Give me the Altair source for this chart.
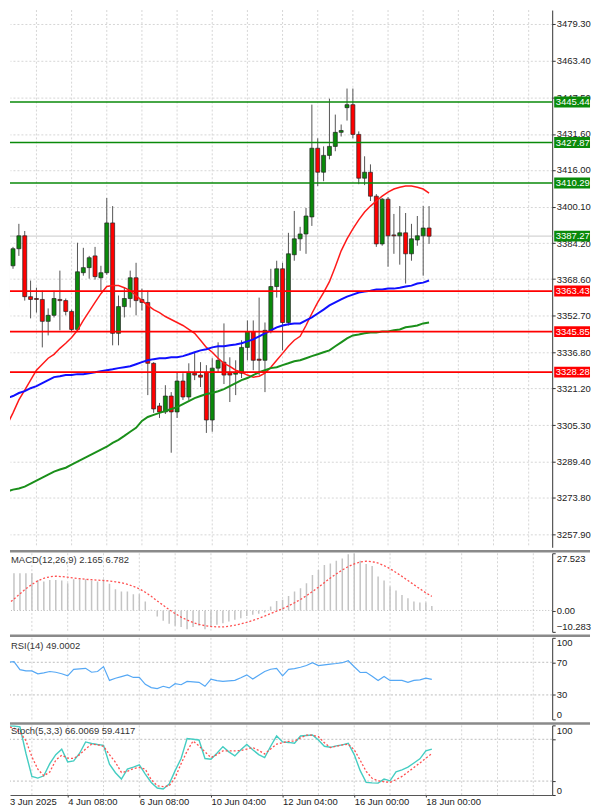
import altair as alt
import pandas as pd

bars = list(range(73))
opens = [3356.3, 3374.4, 3381.8, 3387.4, 3361.0, 3360.2, 3359.8, 3350.3, 3352.9, 3359.8,
         3359.3, 3354.6, 3346.8, 3371.4, 3373.6, 3378.7, 3369.2, 3371.4, 3393.0, 3345.1,
         3356.7, 3360.2, 3369.2, 3359.8, 3358.5, 3332.1, 3313.6, 3311.0, 3317.9, 3311.0,
         3324.4, 3317.5, 3327.8, 3327.0, 3328.2, 3307.5, 3330.0, 3332.6, 3328.2, 3327.4,
         3327.8, 3339.0, 3345.9, 3333.9, 3333.4, 3346.4, 3365.4, 3373.1, 3349.8, 3379.2,
         3386.1, 3388.2, 3395.6, 3425.4, 3415.0, 3422.3, 3426.2, 3432.3, 3443.0, 3444.3,
         3431.4, 3412.4, 3415.0, 3404.6, 3383.9, 3403.3, 3387.8, 3387.4, 3388.7, 3379.6,
         3385.6, 3387.4, 3390.8]
highs = [3378.7, 3382.6, 3392.6, 3389.5, 3368.0, 3364.9, 3363.6, 3355.9, 3363.6, 3372.3,
         3360.2, 3355.4, 3384.4, 3382.2, 3378.7, 3382.6, 3374.4, 3403.8, 3400.3, 3361.5,
         3364.9, 3372.3, 3375.7, 3364.5, 3363.6, 3332.6, 3314.9, 3322.6, 3319.6, 3328.2,
         3327.8, 3332.1, 3336.9, 3332.6, 3331.3, 3334.3, 3341.2, 3349.4, 3334.7, 3333.4,
         3342.1, 3350.7, 3350.7, 3360.6, 3349.8, 3373.1, 3376.6, 3375.7, 3388.7, 3398.2,
         3391.3, 3399.5, 3444.3, 3429.7, 3426.2, 3446.9, 3440.0, 3435.7, 3451.3, 3451.3,
         3432.7, 3421.9, 3418.4, 3405.5, 3403.8, 3404.2, 3396.9, 3400.3, 3397.3, 3392.6,
         3396.0, 3400.3, 3400.3]
lows = [3350.7, 3373.1, 3378.7, 3359.3, 3351.6, 3354.1, 3339.0, 3344.2, 3352.0, 3346.4,
        3352.9, 3345.9, 3345.9, 3370.1, 3368.8, 3368.4, 3363.6, 3370.5, 3339.9, 3339.9,
        3352.0, 3356.3, 3352.9, 3355.0, 3318.3, 3310.6, 3308.4, 3310.1, 3293.3, 3308.4,
        3316.2, 3316.2, 3324.8, 3321.8, 3301.9, 3302.4, 3328.2, 3323.1, 3315.3, 3318.3,
        3325.7, 3333.4, 3329.1, 3327.0, 3319.6, 3345.1, 3360.6, 3337.7, 3348.5, 3376.6,
        3380.9, 3379.6, 3391.7, 3409.0, 3411.1, 3420.6, 3424.1, 3430.5, 3437.4, 3429.7,
        3409.8, 3409.4, 3402.5, 3382.6, 3383.1, 3374.0, 3379.6, 3374.9, 3366.7, 3376.6,
        3383.1, 3370.1, 3383.9]
closes = [3374.4, 3381.8, 3387.4, 3361.0, 3359.8, 3359.8, 3350.3, 3352.9, 3360.2, 3359.3,
          3354.6, 3346.8, 3371.8, 3373.6, 3377.9, 3369.7, 3371.4, 3393.0, 3345.1, 3356.7,
          3360.2, 3369.2, 3359.3, 3358.5, 3332.1, 3312.3, 3311.0, 3317.9, 3311.0, 3324.4,
          3317.5, 3328.2, 3327.0, 3326.1, 3307.5, 3330.0, 3333.4, 3327.0, 3327.0, 3328.2,
          3339.0, 3345.9, 3333.4, 3333.4, 3346.4, 3365.4, 3373.1, 3349.8, 3379.6, 3386.1,
          3388.2, 3396.0, 3425.4, 3415.0, 3422.3, 3426.2, 3432.3, 3433.1, 3444.3, 3431.4,
          3412.4, 3415.0, 3404.6, 3383.9, 3403.3, 3387.4, 3387.4, 3388.7, 3379.6, 3386.1,
          3387.4, 3390.8, 3387.27]

ma_red = [3305.4, 3310.6, 3316.2, 3320.5, 3324.8, 3329.1, 3331.7, 3334.3, 3336.0, 3338.6,
          3340.8, 3343.3, 3346.4, 3350.7, 3354.6, 3358.5, 3362.3, 3365.4, 3365.8, 3365.8,
          3364.9, 3363.6, 3361.5, 3359.3, 3357.2, 3355.4, 3354.1, 3352.4, 3351.1, 3349.8,
          3348.5, 3346.8, 3345.1, 3342.1, 3339.0, 3336.9, 3334.3, 3332.1, 3330.8, 3329.1,
          3328.2, 3327.0, 3326.1, 3326.5, 3327.8, 3330.4, 3333.4, 3336.4, 3339.5, 3342.1,
          3343.8, 3348.5, 3353.7, 3358.5, 3362.8, 3367.5, 3374.0, 3380.9, 3386.1, 3390.4,
          3394.3, 3397.7, 3400.3, 3402.5, 3404.6, 3406.4, 3407.7, 3408.5, 3409.0, 3409.0,
          3408.5, 3407.7, 3405.9]
ma_blue = [3317.0, 3317.9, 3319.2, 3320.0, 3321.3, 3322.2, 3323.5, 3324.8, 3326.1, 3326.5,
           3327.0, 3327.0, 3327.4, 3327.4, 3327.8, 3328.2, 3328.7, 3329.1, 3329.5, 3330.0,
           3330.4, 3330.8, 3331.7, 3332.6, 3333.4, 3333.9, 3334.3, 3334.3, 3334.7, 3334.7,
           3335.2, 3336.0, 3336.9, 3337.7, 3338.2, 3339.0, 3339.5, 3339.5, 3339.9, 3340.3,
           3340.8, 3341.6, 3342.5, 3343.8, 3345.1, 3346.4, 3347.7, 3348.5, 3349.0, 3349.4,
           3349.4, 3350.7, 3352.0, 3353.7, 3355.4, 3357.2, 3358.5, 3359.8, 3361.0, 3361.9,
           3362.8, 3363.2, 3363.6, 3364.1, 3364.1, 3364.5, 3364.5, 3364.9, 3365.4, 3365.8,
           3366.7, 3367.1, 3368.0]
ma_green = [3276.5, 3277.3, 3277.8, 3278.6, 3279.9, 3281.2, 3282.5, 3283.8, 3285.1, 3286.0,
            3286.8, 3288.1, 3289.4, 3290.7, 3292.0, 3293.3, 3294.6, 3295.9, 3297.6, 3298.9,
            3300.6, 3302.4, 3304.1, 3307.1, 3308.8, 3309.7, 3310.6, 3311.4, 3312.3, 3313.1,
            3314.4, 3315.7, 3317.0, 3317.9, 3318.8, 3319.2, 3320.0, 3320.9, 3322.2, 3323.5,
            3324.8, 3325.7, 3327.0, 3328.2, 3329.1, 3330.0, 3330.4, 3331.3, 3332.1, 3333.0,
            3333.4, 3334.3, 3335.2, 3336.0, 3336.9, 3337.7, 3339.5, 3341.2, 3342.9, 3344.2,
            3344.6, 3345.1, 3345.5, 3345.5, 3345.9, 3345.9, 3346.4, 3346.8, 3347.7, 3348.1,
            3348.5, 3349.4, 3349.8]

macd_hist = [10.2, 14.4, 17.9, 17.9, 17.9, 17.9, 14.7, 13.9, 14.7, 14.7,
             14.4, 13.1, 15.0, 15.0, 15.0, 14.4, 13.9, 15.0, 12.8, 10.2,
             9.1, 9.1, 7.8, 7.8, 4.3, 0.3, -2.9, -4.9, -6.4, -7.3,
             -8.0, -9.0, -8.0, -7.3, -9.0, -8.0, -6.9, -6.1, -5.3, -4.5,
             -3.7, -2.6, -2.1, -1.6, -1.0, 1.9, 4.6, 5.1, 7.0, 9.1,
             10.7, 13.1, 17.1, 19.5, 21.9, 22.6, 23.9, 25.0, 27.0, 27.5,
             23.9, 22.3, 21.4, 16.3, 14.4, 11.5, 9.6, 7.5, 5.9, 4.3,
             3.8, 3.8, 2.165]
macd_signal = [0.5, 3.0, 5.5, 8.0, 10.5, 12.5, 14.3, 15.5, 16.2, 16.5,
               16.3, 16.0, 15.6, 15.3, 15.0, 14.8, 14.6, 14.4, 14.2, 13.8,
               13.3, 12.6, 11.6, 10.4, 8.8, 6.8, 4.6, 2.5, 0.4, -1.5,
               -3.2, -4.6, -5.8, -6.7, -7.3, -7.7, -7.9, -7.9, -7.6, -7.1,
               -6.5, -5.7, -4.8, -3.8, -2.7, -1.5, -0.3, 0.9, 2.2, 3.7,
               5.3, 7.1, 9.1, 11.2, 13.4, 15.6, 17.6, 19.5, 21.1, 22.4,
               23.3, 23.7, 23.5, 22.8, 21.6, 20.1, 18.3, 16.4, 14.4, 12.4,
               10.4, 8.5, 6.782]
rsi = [68.7, 70.0, 70.7, 61.0, 59.5, 59.4, 55.8, 57.0, 58.7, 57.8,
       56.0, 53.4, 61.4, 62.0, 62.6, 57.8, 58.7, 64.7, 47.8, 50.5,
       52.5, 54.6, 51.4, 51.4, 43.0, 39.0, 37.7, 40.6, 38.6, 43.7,
       42.5, 46.6, 46.0, 45.4, 40.6, 49.4, 47.5, 46.6, 47.2, 47.8,
       51.0, 54.6, 49.4, 54.0, 58.7, 61.5, 62.6, 53.4, 61.4, 62.2,
       63.9, 66.0, 69.5, 65.9, 66.8, 67.8, 68.5, 69.5, 71.9, 64.5,
       57.5, 57.8, 53.0, 47.8, 52.6, 47.8, 47.8, 47.8, 45.4, 47.8,
       48.5, 50.6, 49.0002]
stoch_k = [98.0, 99.0, 99.0, 98.0, 60.0, 26.7, 24.3, 27.6, 45.0, 58.0,
           65.7, 47.6, 49.0, 60.0, 76.2, 74.0, 72.5, 71.4, 44.3, 32.0,
           22.9, 37.1, 40.0, 43.3, 30.0, 18.0, 10.0, 8.6, 15.7, 35.0,
           52.4, 81.0, 80.0, 79.0, 52.4, 51.4, 60.0, 69.5, 62.0, 56.2,
           65.0, 72.5, 65.0, 58.0, 53.8, 70.0, 84.8, 76.2, 75.5, 74.3,
           84.8, 85.5, 86.2, 79.0, 70.0, 68.5, 70.5, 72.0, 74.3, 58.0,
           35.0, 18.1, 17.5, 17.1, 22.9, 20.4, 33.3, 36.0, 40.0, 46.0,
           52.0, 63.3, 66.0069]
stoch_d = [98.0, 98.0, 96.0, 90.0, 78.0, 55.0, 37.0, 27.6, 33.0, 50.0,
           57.0, 53.0, 52.4, 58.0, 66.0, 72.9, 72.0, 70.0, 58.0, 47.0,
           32.4, 34.0, 38.0, 39.5, 37.0, 22.0, 13.3, 12.0, 13.3, 25.0,
           45.0, 63.0, 77.6, 70.5, 62.0, 53.8, 58.0, 63.3, 63.3, 63.3,
           64.0, 66.0, 68.1, 64.0, 59.0, 66.0, 73.0, 75.2, 77.0, 77.6,
           82.0, 86.0, 86.0, 83.8, 75.0, 68.1, 70.0, 72.0, 72.9, 65.0,
           50.0, 34.0, 24.0, 20.4, 19.0, 18.1, 22.0, 26.7, 33.0, 39.5,
           46.0, 53.0, 59.4117]

res_levels = [3445.44, 3427.87, 3410.29]
sup_levels = [3363.43, 3345.85, 3328.28]
last_price = 3387.27

price_ticks = [3479.30, 3463.40, 3447.50, 3431.60, 3416.00, 3400.10, 3384.20, 3368.60,
               3352.70, 3336.80, 3321.20, 3305.30, 3289.40, 3273.80, 3257.90]
macd_ticks = [27.523, 0.0, -10.283]
rsi_ticks = [100, 70, 30, 0]
rsi_levels = [70, 30]
stoch_ticks = [100, 80, 20, 0]
stoch_levels = [80, 20]
grid_bars = list(range(5, 92, 6))
date_bars = [11, 23, 35, 47, 59, 71]
date_labels = ["4 Jun 08:00", "6 Jun 08:00", "10 Jun 04:00", "12 Jun 04:00",
               "16 Jun 00:00", "18 Jun 00:00"]
first_date_label = "3 Jun 2025"

df = pd.DataFrame({"bar": bars, "open": opens, "high": highs, "low": lows, "close": closes,
                   "ma_red": ma_red, "ma_blue": ma_blue, "ma_green": ma_green,
                   "hist": macd_hist, "signal": macd_signal, "rsi": rsi,
                   "k": stoch_k, "d": stoch_d})
df["dir"] = ["up" if c >= o else "down" for o, c in zip(opens, closes)]
grid_df = pd.DataFrame({"bar": grid_bars})
levels_df = pd.DataFrame({"price": res_levels + sup_levels,
                          "kind": ["res"] * len(res_levels) + ["sup"] * len(sup_levels)})
tags_df = pd.DataFrame({"price": res_levels + sup_levels + [last_price],
                        "kind": ["res"] * 3 + ["sup"] * 3 + ["last"]})
tags_df["label"] = [f"{p:.2f}" for p in tags_df["price"]]
last_df = pd.DataFrame({"price": [last_price]})
one = pd.DataFrame({"a": [0]})

FONT = "Liberation Sans"
FS = 9.5
W = 545
RIGHT = 583
XDOM = [8 / 6, 553 / 6]
xscale = alt.Scale(domain=XDOM, nice=False, zero=False)
X = alt.X("bar:Q", scale=xscale, axis=None, title=None)

main_scale = alt.Scale(domain=[3252.28, 3485.35], nice=False, zero=False)
main_axis = alt.Axis(orient="right", values=price_ticks, format=".2f", title=None,
                     labelFont=FONT, labelFontSize=FS, labelColor="#222",
                     tickColor="#333", tickSize=3, labelPadding=1,
                     domainColor="#333", domainWidth=1,
                     grid=True, gridColor="#d6d6d6", gridDash=[2, 2])


def ym(field):
    return alt.Y(f"{field}:Q", scale=main_scale, axis=main_axis, title=None)


def vgrid():
    return alt.Chart(grid_df).mark_rule(color="#d6d6d6", strokeDash=[2, 2]).encode(x=X)


def separator():
    return alt.Chart(one).mark_rule(color="#8a8a8a", strokeWidth=2.5).encode(
        x=alt.value(0), x2=alt.value(RIGHT), y=alt.value(-2))


pline = alt.Chart(last_df).mark_rule(color="#d4d4d4", strokeWidth=1.5).encode(y=ym("price"))
wick = alt.Chart(df).mark_rule(color="#555555", strokeWidth=1, clip=True).encode(
    x=X, y=ym("low"), y2="high")
body = alt.Chart(df).mark_bar(size=4, stroke="#222222", strokeWidth=0.7, clip=True).encode(
    x=X, y=ym("open"), y2="close",
    color=alt.Color("dir:N", scale=alt.Scale(domain=["up", "down"], range=["#0a8a0a", "#ff0000"]),
                    legend=None))
l_red = alt.Chart(df).mark_line(color="#ff1a1a", strokeWidth=1.5, clip=True).encode(x=X, y=ym("ma_red"))
l_blue = alt.Chart(df).mark_line(color="#1010ff", strokeWidth=2, clip=True).encode(x=X, y=ym("ma_blue"))
l_green = alt.Chart(df).mark_line(color="#1a8f1a", strokeWidth=2, clip=True).encode(x=X, y=ym("ma_green"))
levels = alt.Chart(levels_df).mark_rule(strokeWidth=1.6).encode(
    y=ym("price"),
    color=alt.Color("kind:N", scale=alt.Scale(domain=["res", "sup"], range=["#1e9a1e", "#ff2020"]),
                    legend=None))
tag_box = alt.Chart(tags_df).mark_rect(yOffset=-5.5, y2Offset=5.5).encode(
    x=alt.value(547), x2=alt.value(RIGHT), y=ym("price"), y2="price",
    color=alt.Color("kind:N", scale=alt.Scale(domain=["res", "sup", "last"],
                                              range=["#0f8f0f", "#ff1010", "#000000"]), legend=None))
tag_text = alt.Chart(tags_df).mark_text(align="left", baseline="middle", color="white",
                                        font=FONT, fontSize=FS).encode(
    x=alt.value(548.5), y=ym("price"), text="label:N")

main = alt.layer(vgrid(), pline, wick, body, l_red, l_blue, l_green, levels, tag_box, tag_text
                 ).properties(width=W, height=540)

macd_scale = alt.Scale(domain=[-10.283, 27.523], nice=False, zero=False)
macd_axis = alt.Axis(orient="right", values=macd_ticks, title=None, grid=False,
                     labelExpr="datum.value == 0 ? '0.00' : format(datum.value, '.3f')",
                     labelFlush=True, labelFont=FONT, labelFontSize=FS, labelColor="#222",
                     tickColor="#333", tickSize=3, labelPadding=1, domainColor="#333")
MY = lambda f: alt.Y(f"{f}:Q", scale=macd_scale, axis=macd_axis, title=None)
zero = alt.Chart(pd.DataFrame({"v": [0.0]})).mark_rule(color="#bdbdbd", strokeDash=[1, 2]).encode(y=MY("v"))
hist = alt.Chart(df).mark_rule(color="#c4c4c4", strokeWidth=1.5, clip=True).encode(
    x=X, y=MY("hist"), y2=alt.Y2(datum=0))
sig = alt.Chart(df).mark_line(color="#ff5050", strokeWidth=1.3, strokeDash=[2, 2], clip=True).encode(
    x=X, y=MY("signal"))
macd_lbl = alt.Chart(one).mark_text(align="left", baseline="middle", font=FONT, fontSize=FS,
                                    color="#333").encode(
    x=alt.value(1), y=alt.value(7),
    text=alt.value(f"MACD(12,26,9) {macd_hist[-1]:.3f} {macd_signal[-1]:.3f}"))
macd = alt.layer(vgrid(), zero, hist, sig, macd_lbl, separator()).properties(width=W, height=79)

rsi_scale = alt.Scale(domain=[0, 100], nice=False)
rsi_axis = alt.Axis(orient="right", values=rsi_ticks, title=None, grid=False, labelFlush=True,
                    labelFont=FONT, labelFontSize=FS, labelColor="#222", tickColor="#333",
                    tickSize=3, labelPadding=1, domainColor="#333")
RY = lambda f: alt.Y(f"{f}:Q", scale=rsi_scale, axis=rsi_axis, title=None)
rsi_lv = alt.Chart(pd.DataFrame({"v": rsi_levels})).mark_rule(color="#bdbdbd", strokeDash=[2, 2]).encode(y=RY("v"))
rsi_line = alt.Chart(df).mark_line(color="#55a8f5", strokeWidth=1.2, clip=True).encode(x=X, y=RY("rsi"))
rsi_lbl = alt.Chart(one).mark_text(align="left", baseline="middle", font=FONT, fontSize=FS,
                                   color="#333").encode(
    x=alt.value(1), y=alt.value(8), text=alt.value(f"RSI(14) {rsi[-1]:.4f}"))
rsi_panel = alt.layer(vgrid(), rsi_lv, rsi_line, rsi_lbl, separator()).properties(width=W, height=82)

label_map = "{" + ",".join(f"'{b}':'{t}'" for b, t in zip(date_bars, date_labels)) + "}"
x_axis = alt.Axis(values=date_bars, labelExpr=f"{label_map}[format(datum.value, 'd')]",
                  labelAlign="left", labelFont=FONT, labelFontSize=FS, labelColor="#222",
                  labelPadding=0, tickSize=2, tickColor="#333", domainColor="#555",
                  grid=False, title=None, labelFlush=False, labelOverlap=False)
XB = alt.X("bar:Q", scale=xscale, axis=x_axis, title=None)
st_scale = alt.Scale(domain=[0, 100], nice=False)
st_axis = alt.Axis(orient="right", values=stoch_ticks, title=None, grid=False, labelFlush=True,
                   labelFont=FONT, labelFontSize=FS, labelColor="#222", tickColor="#333",
                   tickSize=3, labelPadding=1, domainColor="#333")
SY = lambda f: alt.Y(f"{f}:Q", scale=st_scale, axis=st_axis, title=None)
st_lv = alt.Chart(pd.DataFrame({"v": stoch_levels})).mark_rule(color="#bdbdbd", strokeDash=[2, 2]).encode(y=SY("v"))
k_line = alt.Chart(df).mark_line(color="#45cdc2", strokeWidth=1.4, clip=True).encode(x=XB, y=SY("k"))
d_line = alt.Chart(df).mark_line(color="#ff5050", strokeWidth=1.3, strokeDash=[2, 2], clip=True).encode(
    x=XB, y=SY("d"))
st_lbl = alt.Chart(one).mark_text(align="left", baseline="middle", font=FONT, fontSize=FS,
                                  color="#333").encode(
    x=alt.value(1), y=alt.value(6),
    text=alt.value(f"Stoch(5,3,3) {stoch_k[-1]:.4f} {stoch_d[-1]:.4f}"))
first_lbl = alt.Chart(one).mark_text(align="left", baseline="top", font=FONT, fontSize=FS,
                                     color="#222").encode(
    x=alt.value(0), y=alt.value(72), text=alt.value(first_date_label))
st_grid = alt.Chart(grid_df).mark_rule(color="#d6d6d6", strokeDash=[2, 2]).encode(x=XB)
stoch = alt.layer(st_grid, st_lv, k_line, d_line, st_lbl, first_lbl, separator()
                  ).properties(width=W, height=70)

chart = alt.vconcat(main, macd, rsi_panel, stoch, spacing=1).properties(
    padding={"left": 0, "top": -1, "right": 0, "bottom": 0}
).configure_view(stroke=None).configure_axis(labelFont=FONT)

chart.save("out.html", embed_options={"renderer": "svg", "actions": False})
